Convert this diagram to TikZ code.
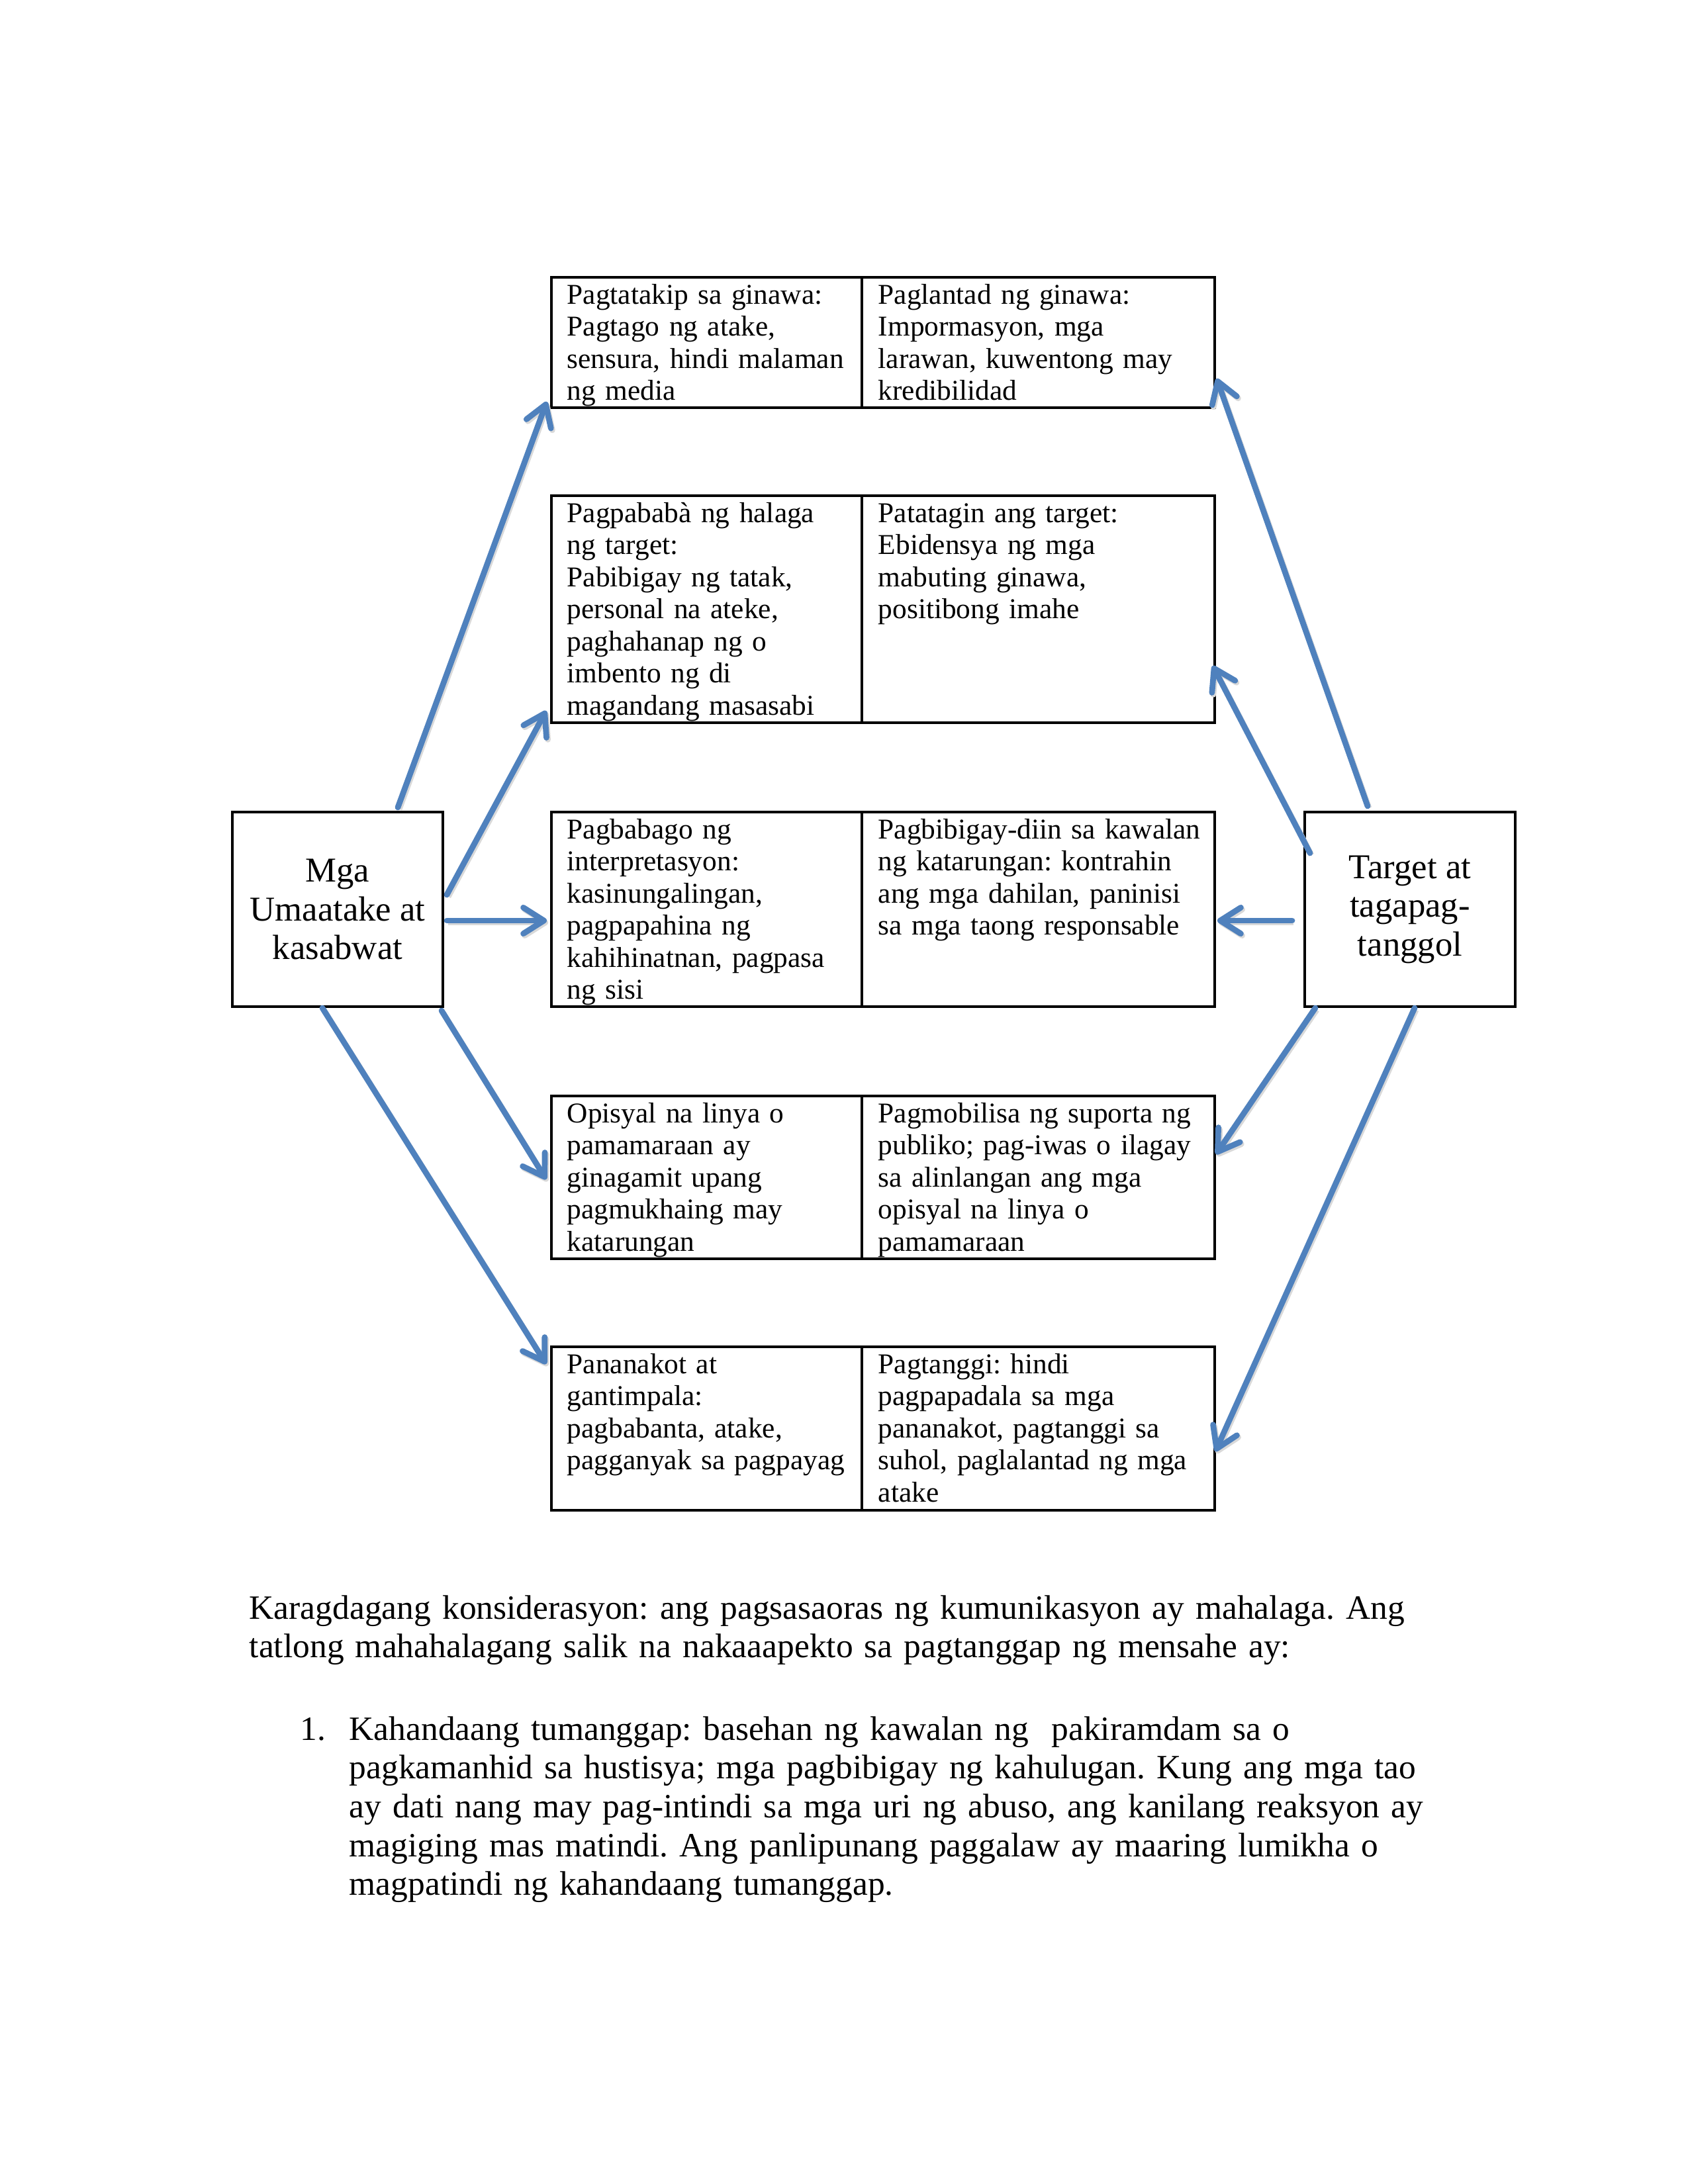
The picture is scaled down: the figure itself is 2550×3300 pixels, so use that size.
\documentclass[tikz,border=0pt]{standalone}
\usepackage{fontspec}
\setmainfont{Liberation Serif}
\usetikzlibrary{calc,arrows.meta}
\frenchspacing
\definecolor{arrblue}{RGB}{79,129,189}
\newcommand{\boxfont}{\fontsize{10.45pt}{11.7pt}\selectfont}
\newcommand{\bigfont}{\fontsize{12.7pt}{14.1pt}\selectfont}
\newcommand{\bodyfont}{\fontsize{12.4pt}{14.15pt}\selectfont}
\tikzset{
  cellbox/.style={draw=black, line width=0.75pt, rectangle, inner sep=0pt, outer sep=0pt},
  celltext/.style={anchor=base west, inner sep=0pt, text width=220pt, align=left, font=\boxfont},
  sidebox/.style={draw=black, line width=0.75pt, rectangle, inner sep=0pt, outer sep=0pt,
    minimum width=318*0.2409pt, minimum height=294*0.2409pt, align=center, font=\bigfont},
  bodytext/.style={anchor=base west, inner sep=0pt, font=\bodyfont, align=left, text width=560pt},
  arr/.style={draw=arrblue, line width=2.1pt, line cap=round, line join=round,
    -{Straight Barb[length=7.5pt,width=9.5pt,line cap=round,line join=round]},
    preaction={draw=black!15, line width=2.1pt, transform canvas={shift={(0.5pt,-0.7pt)}}}}
}
\newcommand{\cellnode}[5]{\node[cellbox, minimum width={(#4-#2)*0.2409pt}, minimum height={(#5-#3)*0.2409pt}] (#1) at ({(#2+#4)/2},{(#3+#5)/2}) {};}
\begin{document}
\begin{tikzpicture}[x=0.2409pt, y=-0.2409pt]
\useasboundingbox (0,0) rectangle (2550,3300);
\fill[white] (0,0) rectangle (2550,3300);

% side boxes
\node[sidebox] (L) at (510,1374) {Mga\\Umaatake at\\kasabwat};
\node[sidebox] (R) at (2130,1374) {Target at\\tagapag-\\tanggol};

% table cells
\cellnode{r1l}{833}{419}{1302}{616}
\cellnode{r1r}{1302}{419}{1835}{616}
\cellnode{r2l}{833}{749}{1302}{1092}
\cellnode{r2r}{1302}{749}{1835}{1092}
\cellnode{r3l}{833}{1227}{1302}{1521}
\cellnode{r3r}{1302}{1227}{1835}{1521}
\cellnode{r4l}{833}{1656}{1302}{1902}
\cellnode{r4r}{1302}{1656}{1835}{1902}
\cellnode{r5l}{833}{2035}{1302}{2282}
\cellnode{r5r}{1302}{2035}{1835}{2282}

% cell texts
\node[celltext] (t1l) at ($(r1l.north west)+(23,40)$) {Pagtatakip sa ginawa:\\Pagtago ng atake,\\sensura, hindi malaman\\ng media};
\node[celltext] (t1r) at ($(r1r.north west)+(24,40)$) {Paglantad ng ginawa:\\Impormasyon, mga\\larawan, kuwentong may\\kredibilidad};
\node[celltext] (t2l) at ($(r2l.north west)+(23,40)$) {Pagpababà ng halaga\\ng target:\\Pabibigay ng tatak,\\personal na ateke,\\paghahanap ng o\\imbento ng di\\magandang masasabi};
\node[celltext] (t2r) at ($(r2r.north west)+(24,40)$) {Patatagin ang target:\\Ebidensya ng mga\\mabuting ginawa,\\positibong imahe};
\node[celltext] (t3l) at ($(r3l.north west)+(23,40)$) {Pagbabago ng\\interpretasyon:\\kasinungalingan,\\pagpapahina ng\\kahihinatnan, pagpasa\\ng sisi};
\node[celltext] (t3r) at ($(r3r.north west)+(24,40)$) {Pagbibigay-diin sa kawalan\\ng katarungan: kontrahin\\ang mga dahilan, paninisi\\sa mga taong responsable};
\node[celltext] (t4l) at ($(r4l.north west)+(23,40)$) {Opisyal na linya o\\pamamaraan ay\\ginagamit upang\\pagmukhaing may\\katarungan};
\node[celltext] (t4r) at ($(r4r.north west)+(24,40)$) {Pagmobilisa ng suporta ng\\publiko; pag-iwas o ilagay\\sa alinlangan ang mga\\opisyal na linya o\\pamamaraan};
\node[celltext] (t5l) at ($(r5l.north west)+(23,40)$) {Pananakot at\\gantimpala:\\pagbabanta, atake,\\pagganyak sa pagpayag};
\node[celltext] (t5r) at ($(r5r.north west)+(24,40)$) {Pagtanggi: hindi\\pagpapadala sa mga\\pananakot, pagtanggi sa\\suhol, paglalantad ng mga\\atake};

% arrows from attackers
\draw[arr] ($(L.north)+(91,-7)$) -- ($(r1l.south west)+(-7,-9)$);
\draw[arr] ($(L.east)+(6,-22)$) -- ($(r2l.south west)+(-8,-18)$);
\draw[arr] ($(L.east)+(6,17)$) -- ($(r3l.west)+(-7,17)$);
\draw[arr] ($(L.south east)+(-2,6)$) -- ($(r4l.west)+(-8,3)$);
\draw[arr] ($(L.south)+(-23,2)$) -- ($(r5l.north west)+(-8,26)$);
% arrows from targets
\draw[arr] ($(R.north)+(-64,-9)$) -- ($(r1r.south east)+(3,-44)$);
\draw[arr] ($(R.west)+(8,-85)$) -- ($(r2r.south east)+(-3,-86)$);
\draw[arr] ($(R.west)+(-19,17)$) -- ($(r3r.east)+(4,17)$);
\draw[arr] ($(R.south west)+(16,2)$) -- ($(r4r.east)+(2,-35)$);
\draw[arr] ($(R.south)+(7,2)$) -- ($(r5r.south east)+(1,-89)$);

% body text
\node[bodytext] (p1) at (376,2446) {Karagdagang konsiderasyon: ang pagsasaoras ng kumunikasyon ay mahalaga. Ang\\tatlong mahahalagang salik na nakaaapekto sa pagtanggap ng mensahe ay:};
\node[bodytext, text width=40pt] (n1) at (453,2629) {1.};
\node[bodytext] (p2) at (527,2629) {Kahandaang tumanggap: basehan ng kawalan ng\ \ pakiramdam sa o\\pagkamanhid sa hustisya; mga pagbibigay ng kahulugan. Kung ang mga tao\\ay dati nang may pag-intindi sa mga uri ng abuso, ang kanilang reaksyon ay\\magiging mas matindi. Ang panlipunang paggalaw ay maaring lumikha o\\magpatindi ng kahandaang tumanggap.};
\end{tikzpicture}
\end{document}
